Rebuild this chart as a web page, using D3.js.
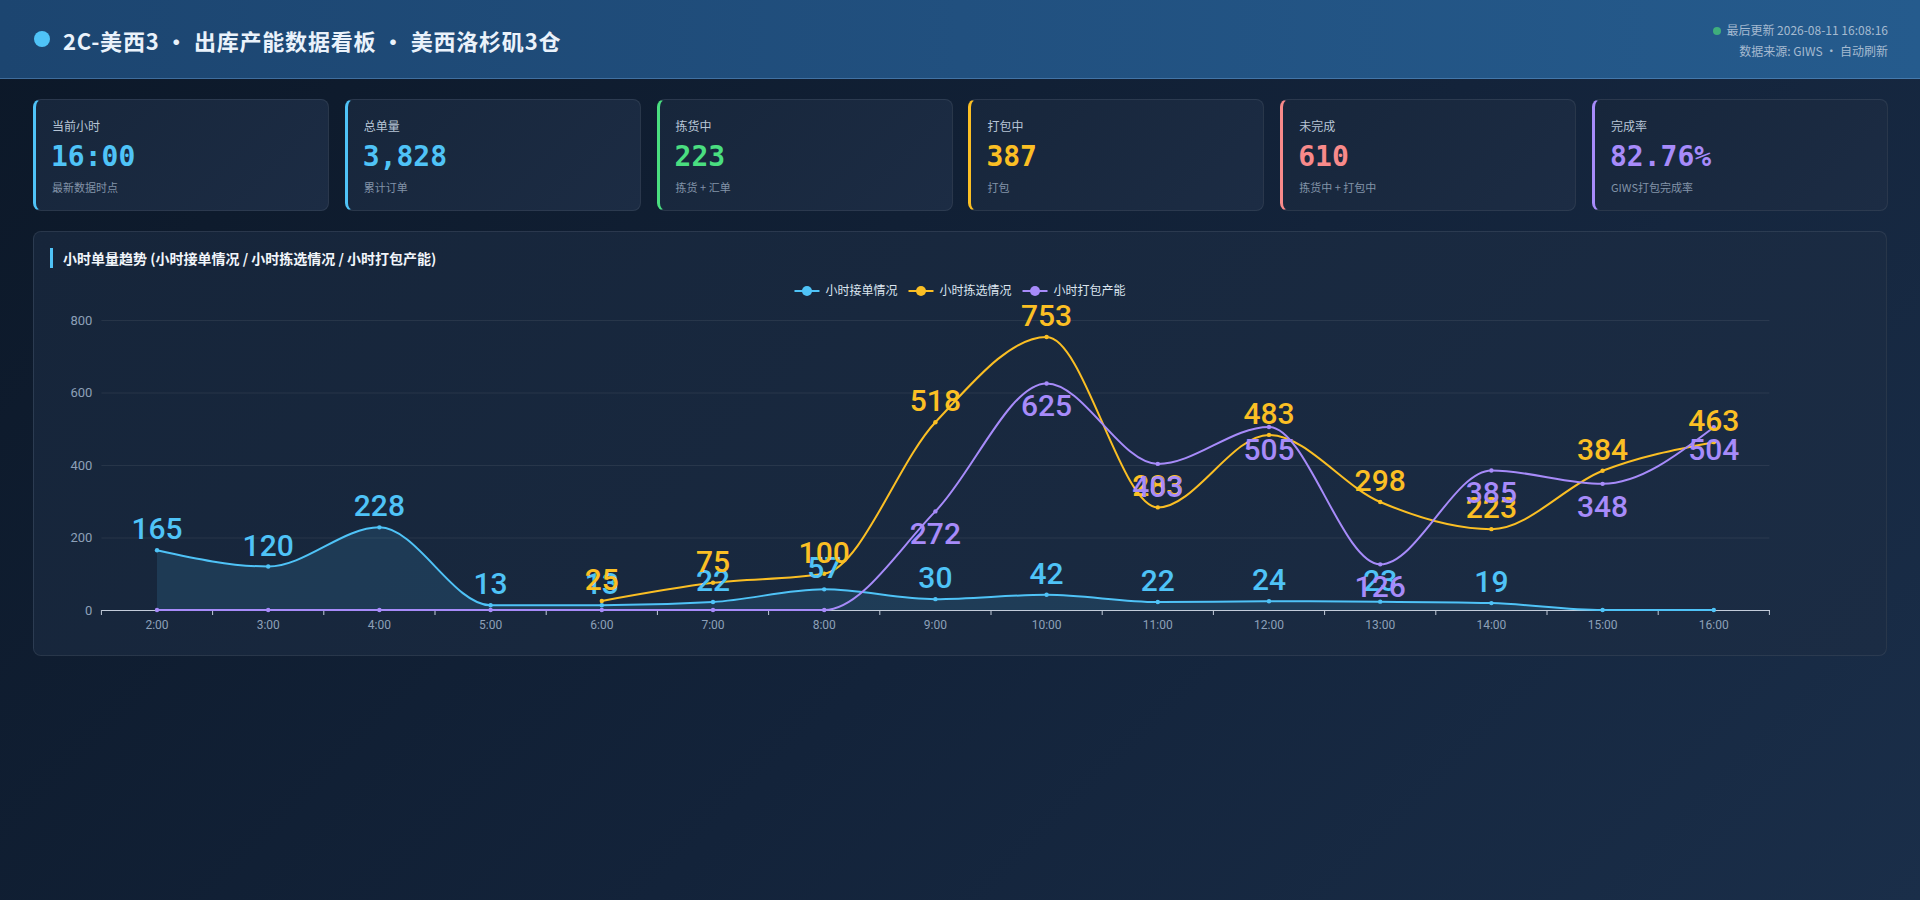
<!DOCTYPE html>
<html>
<head>
<meta charset="utf-8">
<script src="https://cdn.jsdelivr.net/npm/d3@7"></script>
<style>
  html, body { margin: 0; padding: 0; }
  body {
    width: 1920px; height: 900px; overflow: hidden; position: relative;
    background: linear-gradient(135deg, #0c1828 0%, #13233a 55%, #1a2e49 100%);
    font-family: "Noto Sans CJK SC", "Noto Sans", sans-serif;
  }
  .header {
    position: absolute; left: 0; top: 0; width: 1920px; height: 78px;
    background: linear-gradient(90deg, #1c4570 0%, #21507f 50%, #255b8d 100%);
    border-bottom: 1px solid rgba(130, 180, 235, 0.35);
  }
  .header .dot {
    position: absolute; left: 34px; top: 31px; width: 16px; height: 16px;
    border-radius: 50%; background: #4fc3f7;
  }
  .header .title {
    position: absolute; left: 63px; top: 23px; font-size: 22px; font-weight: 700;
    color: #eaf2fb; letter-spacing: 0.8px; line-height: 34px; white-space: nowrap;
  }
  .header .meta {
    position: absolute; right: 32px; top: 19px; text-align: right;
    font-size: 12px; line-height: 21px; color: #a6bad0;
  }
  .header .meta .live {
    display: inline-block; width: 8px; height: 8px; border-radius: 50%;
    background: #3fae7c; margin-right: 5px; vertical-align: 0px;
  }
  .card {
    position: absolute; top: 99px; width: 296px; height: 112px;
    background: linear-gradient(135deg, #17263b 0%, #1c2c44 100%);
    border: 1px solid rgba(255, 255, 255, 0.08); border-left: 3px solid;
    border-radius: 8px; box-sizing: border-box;
  }
  .card .lab { position: absolute; left: 16px; top: 17px; font-size: 12px; color: #b7c5d6; }
  .card .val {
    position: absolute; left: 15px; top: 39px; font-size: 28px; font-weight: 700;
    font-family: "DejaVu Sans Mono", monospace; line-height: 36px;
  }
  .card .sub { position: absolute; left: 16px; top: 79px; font-size: 11px; color: #8293a8; }
  .panel {
    position: absolute; left: 33px; top: 231px; width: 1854px; height: 425px;
    background: linear-gradient(135deg, #16253a 0%, #1b2c44 100%);
    border: 1px solid rgba(255, 255, 255, 0.08); border-radius: 8px; box-sizing: border-box;
  }
  svg { position: absolute; left: 0; top: 0; }
</style>
</head>
<body>
<div class="header">
  <div class="dot"></div>
  <div class="title">2C-美西3 · 出库产能数据看板 · 美西洛杉矶3仓</div>
  <div class="meta">
    <div><span class="live"></span>最后更新 2026-08-11 16:08:16</div>
    <div>数据来源: GIWS · 自动刷新</div>
  </div>
</div>
<div id="cards"></div>
<div class="panel"></div>
<svg id="chart" width="1920" height="900"></svg>

<script>
// KPI cards
var kpiLabels = ["当前小时", "总单量", "拣货中", "打包中", "未完成", "完成率"];
var kpiValues = ["16:00", "3,828", "223", "387", "610", "82.76%"];
var kpiNotes = ["最新数据时点", "累计订单", "拣货 + 汇单", "打包", "拣货中 + 打包中", "GIWS打包完成率"];
var kpiColors = ["#4fc3f7", "#4fc3f7", "#4ade80", "#fbbf24", "#f88a8a", "#a78bfa"];

// hourly series
var hours = ["2:00", "3:00", "4:00", "5:00", "6:00", "7:00", "8:00", "9:00",
             "10:00", "11:00", "12:00", "13:00", "14:00", "15:00", "16:00"];
var ordersIn = [165, 120, 228, 13, 13, 22, 57, 30, 42, 22, 24, 23, 19, 0, 0];
var picked = [null, null, null, null, 25, 75, 100, 518, 753, 283, 483, 298, 223, 384, 463];
var packed = [0, 0, 0, 0, 0, 0, 0, 272, 625, 403, 505, 126, 385, 348, 504];
var seriesNames = ["小时接单情况", "小时拣选情况", "小时打包产能"];
var seriesColors = ["#4fc3f7", "#fbbf24", "#a78bfa"];
var yTicks = [0, 200, 400, 600, 800];

var card = d3.select("#cards").selectAll("div.card")
    .data(kpiLabels)
    .enter()
    .append("div")
      .attr("class", "card")
      .style("left", function(d, i) { return (33 + i * 311.8) + "px"; })
      .style("border-left-color", function(d, i) { return kpiColors[i]; });
card.append("div").attr("class", "lab").text(function(d) { return d; });
card.append("div").attr("class", "val")
    .style("color", function(d, i) { return kpiColors[i]; })
    .text(function(d, i) { return kpiValues[i]; });
card.append("div").attr("class", "sub").text(function(d, i) { return kpiNotes[i]; });

var svg = d3.select("#chart");

// panel title
svg.append("rect")
    .attr("x", 50).attr("y", 248).attr("width", 3).attr("height", 20)
    .attr("fill", "#4fc3f7");
svg.append("text")
    .attr("x", 63).attr("y", 264)
    .attr("fill", "#f1f5fa")
    .attr("font-size", 14)
    .attr("font-weight", 700)
    .text("小时单量趋势 (小时接单情况 / 小时拣选情况 / 小时打包产能)");

//SCALES
var xScale = d3.scaleBand()
               .domain(hours)
               .range([101.4, 1769.4])
               .padding(0);
var yScale = d3.scaleLinear()
               .domain([0, 800])
               .range([610, 320]);
function cx(i) { return xScale(hours[i]) + xScale.bandwidth() / 2; }

// grid + y labels
var yAxis = d3.axisLeft(yScale)
              .tickValues(yTicks)
              .tickSize(-(1769.4 - 101.4))
              .tickPadding(9);
var gy = svg.append("g")
    .attr("transform", "translate(101.4, 0)")
    .call(yAxis);
gy.select(".domain").remove();
gy.selectAll(".tick line")
    .attr("stroke", "rgba(255,255,255,0.07)")
    .attr("stroke-width", 1);
gy.selectAll(".tick text")
    .attr("fill", "#8da0b8")
    .attr("font-size", 13)
    .attr("font-family", "Roboto, sans-serif");

// x axis
var xAxis = d3.axisBottom(xScale).tickSize(0).tickPadding(10);
var gx = svg.append("g")
    .attr("transform", "translate(0, 610)")
    .call(xAxis);
gx.select(".domain").attr("stroke", "#c3ccda");
gx.selectAll(".tick text")
    .attr("fill", "#8da0b8")
    .attr("font-size", 12)
    .attr("font-family", "Roboto, sans-serif");
gx.selectAll("line.bound")
    .data(hours.concat(["end"]))
    .enter()
    .append("line")
      .attr("class", "bound")
      .attr("x1", function(d, i) { return i < hours.length ? xScale(d) : xScale.range()[1]; })
      .attr("x2", function(d, i) { return i < hours.length ? xScale(d) : xScale.range()[1]; })
      .attr("y1", 0).attr("y2", 5)
      .attr("stroke", "#c3ccda");

var allSeries = [ordersIn, picked, packed];

// area under the order line
var area = d3.area()
    .defined(function(d) { return d != null; })
    .x(function(d, i) { return cx(i); })
    .y0(yScale(0))
    .y1(function(d) { return yScale(d); })
    .curve(d3.curveMonotoneX);
svg.append("path")
    .datum(ordersIn)
    .attr("d", area)
    .attr("fill", "rgba(79,195,247,0.13)");

var line = d3.line()
    .defined(function(d) { return d != null; })
    .x(function(d, i) { return cx(i); })
    .y(function(d) { return yScale(d); })
    .curve(d3.curveMonotoneX);

function points(vals) {
    return vals.map(function(v, i) { return { v: v, i: i }; })
               .filter(function(d) { return d.v != null; });
}

allSeries.forEach(function(vals, s) {
    svg.append("path")
        .datum(vals)
        .attr("d", line)
        .attr("fill", "none")
        .attr("stroke", seriesColors[s])
        .attr("stroke-width", 2);
    svg.append("g").selectAll("circle")
        .data(points(vals))
        .enter()
        .append("circle")
          .attr("cx", function(d) { return cx(d.i); })
          .attr("cy", function(d) { return yScale(d.v); })
          .attr("r", 2.2)
          .attr("fill", seriesColors[s]);
});

// value labels (orders & picking above, packing below)
allSeries.forEach(function(vals, s) {
    svg.append("g").selectAll("text")
        .data(points(vals).filter(function(d) { return d.v !== 0; }))
        .enter()
        .append("text")
          .attr("x", function(d) { return cx(d.i); })
          .attr("y", function(d) { return s === 2 ? yScale(d.v) + 33 : yScale(d.v) - 11; })
          .attr("text-anchor", "middle")
          .attr("fill", seriesColors[s])
          .attr("font-size", 30)
          .attr("font-weight", 500)
          .attr("font-family", "Roboto, sans-serif")
          .text(function(d) { return d.v; });
});

// legend
var legend = svg.append("g").attr("transform", "translate(0, 291)");
var items = legend.selectAll("g")
    .data(seriesNames)
    .enter()
    .append("g");
items.append("line")
    .attr("x1", 0).attr("x2", 25)
    .attr("stroke", function(d, i) { return seriesColors[i]; })
    .attr("stroke-width", 2);
items.append("circle")
    .attr("cx", 12.5).attr("r", 5)
    .attr("fill", function(d, i) { return seriesColors[i]; });
items.append("text")
    .attr("x", 31).attr("dy", "0.36em")
    .attr("fill", "#dde6f0")
    .attr("font-size", 12)
    .text(function(d) { return d; });
var widths = [];
items.each(function() { widths.push(this.getBBox().width); });
var total = d3.sum(widths) + 11 * (widths.length - 1);
var pos = 960 - total / 2;
items.attr("transform", function(d, i) {
    var x = pos;
    pos += widths[i] + 11;
    return "translate(" + x + ", 0)";
});
</script>
</body>
</html>
